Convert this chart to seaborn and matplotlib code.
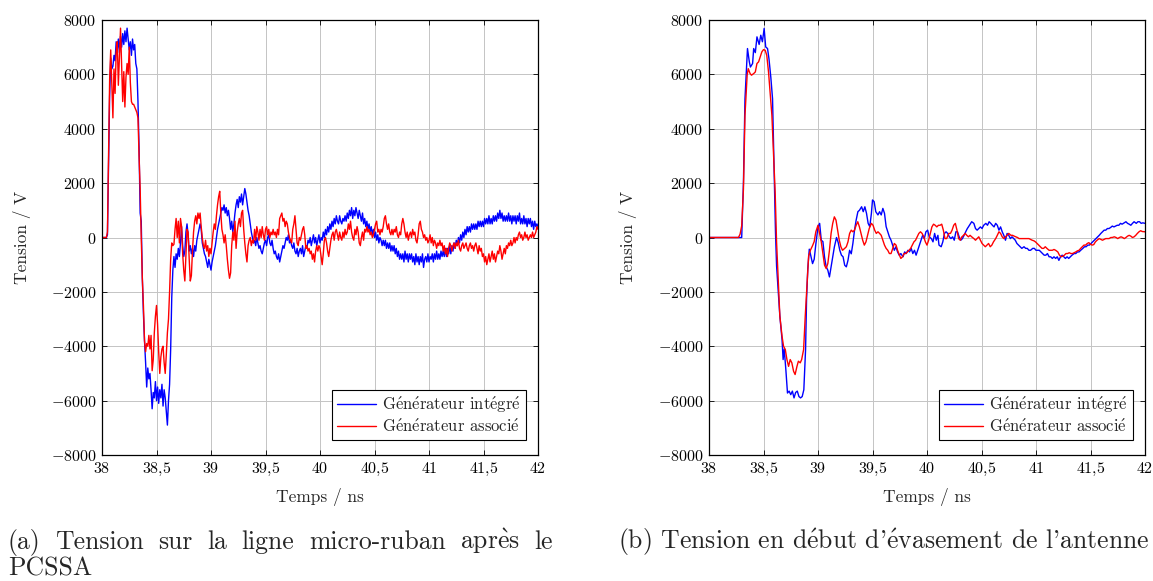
import numpy as np
import pandas as pd
import matplotlib
matplotlib.use("Agg")
import matplotlib.pyplot as plt
import seaborn as sns

# (a) sampled every 10 ps from 38 ns to 42 ns, one row = 0.1 ns
blue_a = [
    0, 0, 0, 0, 0, 100, 2600, 5200, 6600, 6200,
    6300, 6700, 6500, 7200, 6900, 7300, 6800, 7400, 7000, 7500,
    7100, 7600, 7200, 7700, 7300, 6900, 7200, 6700, 7300, 6900,
    7100, 6400, 6200, 5000, 3300, 900, 600, -1500, -2800, -3800,
    -4600, -5500, -4800, -5200, -5000, -5600, -6300, -5700, -5900, -5300,
    -6000, -5500, -6100, -5600, -5900, -5400, -6200, -5600, -5900, -6400,
    -6900, -6000, -5400, -4100, -2200, -1200, -700, -1100, -600, -800,
    -400, -700, -200, 400, -300, -700, -500, 200, 500, 100,
    -500, -300, -600, -400, -700, -300, -500, -100, 100, 300,
    500, 300, -200, -400, -600, -700, -900, -1100, -800, -1000,
    -1200, -900, -700, -500, -300, 0, 300, 500, 700, 900,
    1100, 1000, 1200, 900, 1100, 800, 1000, 700, 300, 600,
    200, 500, 900, 1200, 1400, 1100, 1500, 1300, 1600, 1200,
    1500, 1800, 1600, 1300, 1000, 800, 500, 200, 0, -200,
    -100, -300, 0, -200, -400, -300, -500, -600, -400, -200,
    -100, -300, 0, 100, -200, -300, -100, -400, -600, -500,
    -700, -800, -600, -900, -700, -500, -300, -400, -200, 0,
    -100, 100, -200, -100, -300, -400, -200, -500, -600, -400,
    -700, -500, -400, -600, -300, -700, -500, -300, -400, -100,
    -200, 0, -300, -100, 100, -200, 0, -300, -100, 100,
    -200, 0, -100, 200, 0, 300, 100, 400, 200, 500,
    300, 600, 400, 700, 500, 800, 600, 500, 800, 600,
    500, 700, 600, 800, 600, 900, 700, 1000, 800, 1100,
    700, 1000, 800, 1100, 900, 700, 1000, 800, 600, 900,
    500, 700, 400, 600, 300, 500, 200, 400, 100, 300,
    0, 200, -100, 100, -200, 0, -100, -300, -100, -300,
    -100, -400, -200, -400, -200, -500, -300, -500, -300, -600,
    -400, -700, -500, -800, -600, -800, -600, -900, -500, -800,
    -600, -900, -600, -800, -600, -900, -700, -1000, -600, -900,
    -700, -1000, -700, -900, -600, -1100, -800, -700, -900, -600,
    -900, -700, -800, -600, -900, -600, -800, -500, -800, -600,
    -800, -500, -700, -500, -700, -400, -700, -400, -600, -300,
    -600, -300, -500, -200, -400, -100, -300, 0, -200, 100,
    -100, 200, 0, 300, 100, 400, 200, 400, 200, 500,
    300, 500, 300, 500, 300, 600, 400, 600, 400, 600,
    400, 700, 500, 700, 500, 800, 500, 700, 500, 800,
    600, 800, 600, 900, 700, 1000, 700, 900, 600, 800,
    600, 800, 600, 900, 600, 800, 500, 800, 600, 800,
    500, 800, 600, 900, 500, 700, 500, 800, 500, 700,
    400, 700, 500, 700, 400, 600, 300, 600, 400, 500,
    400,
]
red_a = [
    0, 0, 0, 0, 0, 200, 3000, 5800, 6900, 5600,
    4400, 6200, 5300, 6800, 7200, 5600, 6600, 7700, 6300, 5000,
    6100, 4800, 5900, 6400, 6000, 7000, 5700, 5000, 4900, 4900,
    4800, 4700, 4600, 4400, 3000, 1800, 0, -1500, -2500, -3800,
    -4200, -3900, -4000, -3600, -4100, -3600, -4900, -4500, -3500, -2900,
    -2500, -3200, -4200, -5000, -4400, -4100, -4000, -4600, -5000, -4300,
    -3500, -3000, -2000, -800, -200, -300, -250, 300, 700, 0,
    600, -200, 700, 400, -600, -1200, -1600, -600, 300, 200,
    -800, -1600, -1400, -500, 200, 600, 800, 500, 900, 700,
    900, 400, 0, -300, -400, -100, -500, -300, -700, -400,
    -600, -200, 200, 500, 300, 800, 1200, 1500, 1700, 900,
    300, 100, -200, 100, -300, -800, -1200, -1500, -1300, -300,
    200, -100, 600, -400, 200, 500, 700, 400, 900, 1000,
    300, -200, -600, -900, -300, -100, 0, -300, -100, -200,
    300, -100, 400, 200, -100, 300, 0, 400, 100, -100,
    300, 400, 100, 300, 0, 200, 100, 300, 100, 200,
    0, 300, 100, 700, 800, 900, 600, 700, 400, 600,
    500, 200, 0, -100, -200, 300, 500, 800, 300, -200,
    -300, 0, -100, 100, 300, 400, 100, -400, -300, -500,
    -400, -600, -500, -800, -600, -900, -500, -300, -500, -300,
    -400, -700, -1000, -600, -100, 0, -200, -500, -700, -400,
    -100, 100, 200, -100, 200, 300, 100, -100, 200, 0,
    -100, 200, 0, 300, 100, 200, 500, 300, 600, 200,
    0, -100, 300, 100, 400, 200, -200, -300, 0, 200,
    -100, 300, 200, 400, 200, 300, 100, 200, 0, 100,
    300, 500, 600, 200, 300, 100, 300, 200, 400, 700,
    800, 500, 300, 500, 200, 100, 300, 100, 300, 200,
    400, 100, 0, 200, 100, 500, 700, 500, 200, 0,
    200, -100, 100, 200, 0, 300, 100, 200, -100, -200,
    100, 500, 600, 300, 200, 0, 100, -100, 0, -200,
    -100, 100, -200, 0, -300, -100, -200, -400, -200, -300,
    -100, -300, -200, -500, -300, -600, -400, -700, -400, -200,
    -300, -500, -300, -200, -400, -200, -300, -100, -400, -500,
    -300, -200, -400, -300, -200, -400, -500, -300, -200, -400,
    -300, -500, -300, -200, -400, -600, -300, -500, -400, -700,
    -600, -900, -700, -1000, -800, -600, -900, -700, -500, -800,
    -600, -900, -700, -500, -600, -300, -500, -800, -600, -400,
    -600, -300, -400, -200, -300, -100, -300, -200, 0, -200,
    0, -100, 100, 200, 0, 100, -100, 0, 200, 0,
    100, -100, 0, 100, 0, 200, 0, 100, 200, 400,
    300,
]
time_a = np.linspace(38, 42, 401)

# (b) points (time in ns, voltage in V)
blue_b = [
    (38.00, 0), (38.30, 0), (38.316, 2030), (38.33, 5100), (38.353, 6950),
    (38.37, 6460), (38.38, 6270), (38.40, 6400), (38.41, 6950), (38.425, 6800),
    (38.44, 7380), (38.46, 7100), (38.475, 7440), (38.49, 7200), (38.506, 7690),
    (38.52, 7010), (38.537, 6950), (38.55, 6580), (38.567, 5900), (38.583, 5100),
    (38.59, 3870), (38.60, 2030), (38.61, 180), (38.62, -1050), (38.64, -2280),
    (38.65, -2890), (38.67, -3750), (38.68, -4490), (38.69, -4100), (38.705, -4860),
    (38.72, -5720), (38.735, -5650), (38.75, -5780), (38.765, -5650), (38.78, -5900),
    (38.795, -5700), (38.81, -5650), (38.825, -5850), (38.84, -5900), (38.855, -5850),
    (38.87, -5600), (38.886, -4120), (38.895, -2280), (38.906, -1170), (38.92, -430),
    (38.93, -600), (38.95, -960), (38.965, -800), (38.98, -250), (39.00, 390),
    (39.015, 520), (39.03, -100), (39.045, -150), (39.06, -720), (39.075, -1080),
    (39.09, -1200), (39.105, -1450), (39.12, -1080), (39.135, -720), (39.15, -350),
    (39.17, 0), (39.185, -180), (39.20, -470), (39.215, -650), (39.23, -710),
    (39.245, -1020), (39.26, -1080), (39.275, -840), (39.29, -470), (39.305, -600),
    (39.32, -220), (39.335, 270), (39.35, 640), (39.366, 950), (39.38, 1000),
    (39.40, 1130), (39.415, 950), (39.43, 1130), (39.445, 890), (39.46, 520),
    (39.475, 400), (39.49, 890), (39.50, 1380), (39.515, 1320), (39.53, 950),
    (39.55, 830), (39.565, 950), (39.58, 830), (39.595, 1070), (39.61, 890),
    (39.625, 400), (39.64, 210), (39.655, 25), (39.67, -100), (39.685, -280),
    (39.70, -470), (39.715, -340), (39.73, -530), (39.745, -650), (39.76, -590),
    (39.78, -710), (39.795, -530), (39.81, -590), (39.825, -470), (39.84, -530),
    (39.855, -400), (39.87, -590), (39.885, -470), (39.90, -650), (39.915, -470),
    (39.93, -280), (39.945, -100), (39.96, 80), (39.975, -40), (39.99, 210),
    (40.006, 270), (40.02, 25), (40.04, -40), (40.055, -160), (40.07, 150),
    (40.085, -100), (40.10, 80), (40.11, -280), (40.13, -340), (40.145, -160),
    (40.16, 150), (40.175, 210), (40.19, 150), (40.205, 25), (40.22, -40),
    (40.235, 25), (40.25, -100), (40.265, 210), (40.28, 210), (40.295, 25),
    (40.31, -100), (40.325, -40), (40.34, 80), (40.355, 210), (40.37, 330),
    (40.38, 390), (40.41, 580), (40.43, 520), (40.445, 330), (40.46, 270),
    (40.475, 330), (40.49, 390), (40.505, 330), (40.52, 450), (40.54, 520),
    (40.555, 450), (40.57, 580), (40.585, 520), (40.60, 450), (40.615, 390),
    (40.63, 520), (40.645, 450), (40.66, 270), (40.675, 390), (40.69, 210),
    (40.705, 80), (40.72, -100), (40.735, 150), (40.75, 80), (40.765, -40),
    (40.78, 25), (40.795, -40), (40.81, -100), (40.825, -220), (40.84, -280),
    (40.855, -340), (40.87, -400), (40.89, -340), (40.905, -400), (40.92, -400),
    (40.935, -470), (40.95, -470), (40.97, -400), (40.985, -400), (41.00, -470),
    (41.015, -470), (41.03, -470), (41.045, -530), (41.06, -590), (41.075, -650),
    (41.09, -650), (41.105, -590), (41.12, -710), (41.135, -710), (41.15, -770),
    (41.165, -710), (41.18, -770), (41.195, -710), (41.21, -840), (41.225, -710),
    (41.24, -650), (41.255, -710), (41.27, -770), (41.285, -710), (41.30, -770),
    (41.315, -710), (41.33, -650), (41.35, -590), (41.365, -590), (41.38, -530),
    (41.395, -530), (41.41, -470), (41.43, -400), (41.445, -340), (41.46, -340),
    (41.475, -280), (41.49, -280), (41.505, -220), (41.52, -160), (41.535, -100),
    (41.55, -40), (41.565, 25), (41.58, 80), (41.595, 150), (41.61, 210),
    (41.625, 270), (41.64, 270), (41.655, 330), (41.67, 330), (41.685, 370),
    (41.70, 420), (41.715, 390), (41.73, 420), (41.745, 450), (41.76, 450),
    (41.775, 520), (41.79, 490), (41.81, 540), (41.825, 580), (41.84, 520),
    (41.855, 490), (41.87, 450), (41.885, 520), (41.90, 580), (41.92, 520),
    (41.935, 580), (41.95, 580), (41.965, 520), (41.98, 540), (42.00, 520),
]
red_b = [
    (38.00, 0), (38.27, 0), (38.285, 120), (38.30, 430), (38.316, 1780),
    (38.33, 4490), (38.35, 5970), (38.36, 6210), (38.377, 6030), (38.39, 5970),
    (38.41, 6030), (38.425, 6090), (38.44, 6400), (38.455, 6460), (38.47, 6640),
    (38.485, 6830), (38.50, 6910), (38.515, 6890), (38.53, 6700), (38.546, 6090),
    (38.56, 5350), (38.577, 4490), (38.59, 3260), (38.607, 1660), (38.62, -180),
    (38.64, -2030), (38.65, -2890), (38.67, -3630), (38.684, -4000), (38.70, -4120),
    (38.715, -4490), (38.73, -4740), (38.745, -4490), (38.76, -4610), (38.776, -4920),
    (38.79, -5040), (38.807, -4740), (38.82, -4550), (38.837, -4610), (38.85, -4490),
    (38.868, -4120), (38.883, -2890), (38.90, -1660), (38.914, -680), (38.93, -470),
    (38.95, -300), (38.965, -150), (38.98, 210), (39.00, 450), (39.015, 150),
    (39.03, -160), (39.045, -590), (39.06, -1020), (39.075, -1140), (39.09, -960),
    (39.105, -470), (39.12, 150), (39.135, 520), (39.15, 760), (39.165, 640),
    (39.18, 270), (39.195, -100), (39.21, -340), (39.225, -470), (39.245, -400),
    (39.26, -340), (39.275, -160), (39.29, 150), (39.305, 270), (39.32, 210),
    (39.335, 270), (39.35, 450), (39.365, 580), (39.38, 390), (39.395, 150),
    (39.41, -100), (39.425, -280), (39.44, -160), (39.455, 80), (39.47, 330),
    (39.49, 520), (39.505, 450), (39.52, 270), (39.535, 150), (39.55, 210),
    (39.565, 150), (39.58, 80), (39.595, -100), (39.61, -280), (39.625, -400),
    (39.64, -470), (39.655, -590), (39.67, -590), (39.686, -400), (39.70, -220),
    (39.716, -280), (39.73, -470), (39.747, -650), (39.76, -770), (39.775, -710),
    (39.79, -590), (39.805, -590), (39.82, -530), (39.835, -470), (39.85, -400),
    (39.865, -280), (39.88, -160), (39.895, -100), (39.91, 25), (39.925, 150),
    (39.94, 210), (39.955, 150), (39.97, 25), (39.985, -160), (40.00, -280),
    (40.015, -100), (40.03, 150), (40.045, 390), (40.06, 490), (40.075, 450),
    (40.09, 390), (40.105, 450), (40.12, 450), (40.135, 490), (40.15, 270),
    (40.165, -40), (40.18, -40), (40.20, 150), (40.215, 150), (40.23, 270),
    (40.245, 450), (40.26, 520), (40.275, 270), (40.29, -40), (40.305, -100),
    (40.32, 25), (40.335, 80), (40.35, 150), (40.365, 80), (40.38, 25),
    (40.395, 80), (40.41, 25), (40.43, -40), (40.445, -100), (40.46, -40),
    (40.475, 25), (40.49, -100), (40.505, -220), (40.52, -280), (40.535, -340),
    (40.55, -280), (40.565, -220), (40.58, -340), (40.595, -280), (40.61, -160),
    (40.63, -40), (40.645, 80), (40.66, 210), (40.675, 150), (40.69, 25),
    (40.705, -40), (40.72, 25), (40.735, 80), (40.75, 150), (40.77, 80),
    (40.785, 80), (40.80, 50), (40.815, 25), (40.83, 0), (40.845, -40),
    (40.86, -40), (40.875, -40), (40.89, -40), (40.905, -40), (40.92, -40),
    (40.935, -40), (40.95, -70), (40.965, -100), (40.98, -120), (40.995, -160),
    (41.01, -220), (41.025, -280), (41.04, -340), (41.055, -400), (41.07, -400),
    (41.085, -340), (41.10, -400), (41.12, -470), (41.135, -470), (41.15, -470),
    (41.165, -440), (41.18, -470), (41.20, -530), (41.215, -650), (41.23, -710),
    (41.245, -690), (41.26, -650), (41.275, -590), (41.29, -590), (41.305, -560),
    (41.32, -590), (41.335, -590), (41.35, -560), (41.365, -530), (41.38, -490),
    (41.395, -470), (41.41, -400), (41.425, -340), (41.44, -280), (41.455, -280),
    (41.47, -220), (41.485, -190), (41.50, -250), (41.515, -280), (41.53, -260),
    (41.545, -160), (41.56, -100), (41.58, -40), (41.595, -70), (41.61, -100),
    (41.625, -70), (41.64, -40), (41.656, -40), (41.67, -40), (41.687, 0),
    (41.70, 0), (41.718, 25), (41.735, 0), (41.75, -40), (41.765, 0),
    (41.78, 25), (41.795, 0), (41.81, -40), (41.825, 0), (41.84, 50),
    (41.855, 80), (41.87, 50), (41.885, 0), (41.90, 25), (41.915, 80),
    (41.93, 150), (41.945, 210), (41.96, 250), (41.975, 220), (42.00, 210),
]

x_ticks = [38, 38.5, 39, 39.5, 40, 40.5, 41, 41.5, 42]
x_tick_labels = ["38", "38,5", "39", "39,5", "40", "40,5", "41", "41,5", "42"]
y_ticks = [-8000, -6000, -4000, -2000, 0, 2000, 4000, 6000, 8000]
series_names = ["Générateur intégré", "Générateur associé"]
caption_a = ["(a) Tension sur la ligne micro-ruban après le", "PCSSA"]
caption_b = "(b) Tension en début d’évasement de l’antenne"

sns.set_style("ticks")
plt.rcParams["font.family"] = ["cmr10", "DejaVu Serif"]
plt.rcParams["mathtext.fontset"] = "cm"


def cm(s):
    # cmr10 has no accented letters: build them with mathtext accents
    s = s.replace("’", "'")
    s = s.replace("é", r"$\mathrm{\acute{e}}$").replace("è", r"$\mathrm{\grave{e}}$")
    return s


W, H = 1153, 581
fig = plt.figure(figsize=(W / 100, H / 100), dpi=100)
ax_a = fig.add_axes([102 / W, 1 - 455 / H, 436 / W, 435 / H])
ax_b = fig.add_axes([709 / W, 1 - 455 / H, 436 / W, 435 / H])


def draw_panel(ax, t_blue, v_blue, t_red, v_red, ylab_x):
    sns.lineplot(x=t_blue, y=v_blue, ax=ax, color="#0000ff", linewidth=1.0,
                 estimator=None, sort=False, label=cm(series_names[0]))
    sns.lineplot(x=t_red, y=v_red, ax=ax, color="#ff0000", linewidth=1.0,
                 estimator=None, sort=False, label=cm(series_names[1]))
    ax.set_xlim(38, 42)
    ax.set_ylim(-8000, 8000)
    ax.set_xticks(x_ticks)
    ax.set_xticklabels(["$" + s.replace(",", "{,}") + "$" for s in x_tick_labels])
    ax.set_yticks(y_ticks)
    ax.set_yticklabels(["$%d$" % v for v in y_ticks])
    ax.tick_params(direction="in", top=True, right=True, length=3.5, width=0.6,
                   labelsize=11.5, colors="black", pad=4)
    ax.grid(True, color="#c4c4c4", linewidth=0.7)
    ax.set_axisbelow(True)
    for s in ax.spines.values():
        s.set_color("black")
        s.set_linewidth(0.9)
    ax.set_xlabel("Temps / ns", fontsize=12.5)
    ax.xaxis.set_label_coords(0.5, -(497 - 455) / 435)
    ax.set_ylabel("Tension / V", fontsize=12.5)
    ax.yaxis.set_label_coords(ylab_x, 0.5)
    leg = ax.legend(loc="lower right", bbox_to_anchor=(0.972, 0.034), fontsize=12,
                    frameon=True, fancybox=False, framealpha=1, edgecolor="black",
                    handlelength=2.3, handletextpad=0.4, borderpad=0.3,
                    labelspacing=0.15, borderaxespad=0)
    leg.get_frame().set_linewidth(0.8)


draw_panel(ax_a, time_a, blue_a, time_a, red_a, -(102 - 22) / 436)
tb, vb = zip(*blue_b)
tr, vr = zip(*red_b)
draw_panel(ax_b, np.array(tb), np.array(vb), np.array(tr), np.array(vr), -(709 - 628) / 436)
for ax in (ax_a, ax_b):
    ax.xaxis.label.set_va("center")
    ax.yaxis.label.set_va("center")


def justified(x0, x1, y, text, size):
    # spread the words of one caption line between x0 and x1 (pixels)
    words = [cm(w) for w in text.split()]
    items = [fig.text(0, 1 - y / H, w, fontsize=size, va="baseline") for w in words]
    r = fig.canvas.get_renderer()
    widths = [t.get_window_extent(r).width for t in items]
    gap = (x1 - x0 - sum(widths)) / (len(words) - 1)
    x = x0
    for t, w in zip(items, widths):
        t.set_x(x / W)
        x += w + gap


justified(8, 553, 549, caption_a[0], 18.5)
fig.text(8 / W, 1 - 575 / H, caption_a[1], fontsize=18.5, va="baseline")
fig.text(618 / W, 1 - 549 / H, cm(caption_b), fontsize=18.5, va="baseline")

fig.savefig("out.png", dpi=100)
